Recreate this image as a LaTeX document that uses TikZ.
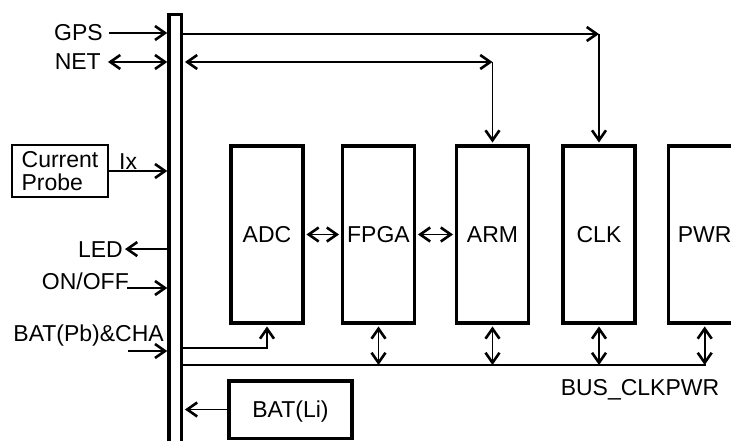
\documentclass[tikz,border=0pt]{standalone}
\usepackage{fontspec}
\setmainfont{Liberation Sans}
\usetikzlibrary{arrows.meta}
\begin{document}
\begin{tikzpicture}[x=1pt,y=-1pt,
  every node/.style={font=\fontsize{23}{23}\selectfont, inner sep=0pt},
  blk/.style={draw, line width=3.5pt, minimum width=72pt, minimum height=177pt, text height=16.4pt, text depth=0pt},
  ln/.style={line width=1.8pt},
  tip/.tip={Straight Barb[length=10pt,width=14pt,line width=2.6pt]},
  arr/.style={ln, -tip},
  darr/.style={ln, tip-tip},
  sh/.style={shorten >=1.7pt},
  shs/.style={shorten <=1.7pt},
  lbl/.style={anchor=base east}]
\useasboundingbox (0,0) rectangle (731,441);

% vertical bus
\node[draw, line width=3.5pt, minimum width=12.5pt, minimum height=445pt, anchor=north] (bus) at (175.25,13) {};

% blocks
\node[blk] (adc) at (267,234.5) {ADC};
\node[blk] (fpga) at (378.5,234.5) {FPGA};
\node[blk] (arm) at (492.5,234.5) {ARM};
\node[blk] (clk) at (599,234.5) {CLK};
\node[blk] (pwr) at (704.7,234.5) {PWR};
\node[draw, line width=3.5pt, minimum width=123pt, minimum height=57.5pt, text height=16.4pt, text depth=0pt] (batli) at (290.5,409.5) {BAT(Li)};
\node[draw, line width=1.2pt, minimum width=96pt, minimum height=52pt, align=left] (probe) at (60,171) {Current\\Probe};

% labels
\node[lbl] (gps) at (103,41) {GPS};
\node[lbl] (net) at (101,69.5) {NET};
\node[anchor=base west] (ix) at (119,169) {Ix};
\node[lbl] (led) at (123,257) {LED};
\node[lbl] (onoff) at (129,289.5) {ON/OFF};
\node[lbl] (batpb) at (164,341.5) {BAT(Pb)\&CHA};
\node[anchor=base] (buslbl) at (640,395.5) {BUS\_CLKPWR};

% left side connectors
\coordinate (gpsA) at (109,33);
\draw[arr] (gpsA) -- (gpsA -| bus.west);
\coordinate (netA) at (108,62);
\draw[darr] (netA) -- (netA -| bus.west);
\draw[arr] (probe.east) -- (probe.east -| bus.west);
\draw[arr] (led.east -| bus.west) -- ([xshift=2pt]led.east);
\coordinate (onA) at (127,288);
\draw[arr] (onA) -- (onA -| bus.west);
\coordinate (batA) at (128,351);
\draw[arr] (batA) -- (batA -| bus.west);

% top connectors
\coordinate (gpsB) at (599,34);
\draw[arr] (gpsB -| bus.east) -- (gpsB);
\draw[arr, sh] (gpsB) -- (clk.north);
\coordinate (netB) at (492.5,62);
\draw[darr, shs] (netB -| bus.east) -- (netB);
\draw[arr, sh] (netB) -- (arm.north);

% block to block
\draw[darr, sh, shs] (adc.east) -- (fpga.west);
\draw[darr, sh, shs] (fpga.east) -- (arm.west);

% bottom
\coordinate (adcL) at (181.5,348);
\draw[arr, sh] (adcL) -| (adc.south);
\coordinate (busL) at (181.5,365);
\coordinate (busR) at (706,365);
\draw[ln] (busL) -- (busR);
\foreach \n in {fpga,arm,clk,pwr}
  \draw[darr, shs] (\n.south) -- (\n.south |- busL);
\draw[arr, sh] (batli.west) -- (batli.west -| bus.east);
\end{tikzpicture}
\end{document}
